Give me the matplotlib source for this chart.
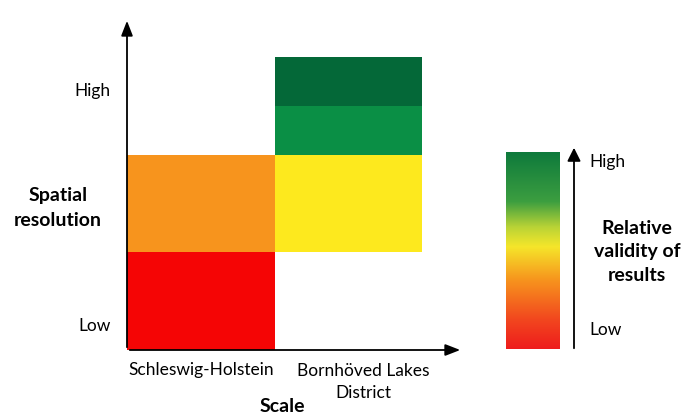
import numpy as np
import matplotlib.pyplot as plt
from matplotlib.patches import FancyArrowPatch
from matplotlib.colors import LinearSegmentedColormap

plt.rcParams['font.family'] = ['Lato', 'DejaVu Sans']

# cells of the chart: one stacked column per scale
categories = ['Schleswig-Holstein', 'Bornhöved Lakes\nDistrict']
# heights of the stacked blocks (bottom to top), 'none' colour = empty
sh_heights = [1.0, 1.0]
sh_colors = ['#f50505', '#f7941d']
bl_heights = [1.0, 1.0, 0.5, 0.5]
bl_colors = ['none', '#fde91e', '#0a8f45', '#046838']
y_labels = ['Low', 'High']
y_label_pos = [0.26, 2.67]

# colour bar stops (position, colour)
cbar_stops = [(0.0, '#ee1c1c'), (0.15, '#f2471f'), (0.35, '#f7941d'),
              (0.52, '#f5e62a'), (0.62, '#b9d336'), (0.75, '#3c9e40'),
              (1.0, '#0e7a3c')]

W, H = 689, 416
fig = plt.figure(figsize=(W / 100, H / 100), dpi=100)


def box(x0, y0, x1, y1):
    # pixel box (top-left origin) -> figure fraction rect
    return [x0 / W, 1 - y1 / H, (x1 - x0) / W, (y1 - y0) / H]


ax = fig.add_axes(box(127, 18, 463, 350))
ax.set_xlim(0, 336 / 147.5)
ax.set_ylim(0, 332 / 97.7)

bottom = 0
for h, c in zip(sh_heights, sh_colors):
    ax.bar(0, h, width=1, bottom=bottom, align='edge', color=c, linewidth=0)
    bottom += h
bottom = 0
for h, c in zip(bl_heights, bl_colors):
    ax.bar(1, h, width=1, bottom=bottom, align='edge', color=c, linewidth=0)
    bottom += h

for s in ax.spines.values():
    s.set_visible(False)
ax.set_xticks([0.5, 1.603], categories, fontsize=12.5, linespacing=1.5)
ax.set_yticks(y_label_pos, y_labels, fontsize=12.5)
ax.tick_params(length=0, pad=12)
ax.tick_params(axis='x', pad=9)

arrow = dict(arrowstyle='-|>,head_length=0.9,head_width=0.35', color='black', lw=1.3)
ax.annotate('', xy=(1, 0), xytext=(0, 0), xycoords='axes fraction', arrowprops=arrow)
ax.annotate('', xy=(0, 1), xytext=(0, 0), xycoords='axes fraction', arrowprops=arrow)

fig.text(282 / W, 1 - 407 / H, 'Scale', ha='center', va='center', fontsize=14, fontweight='bold')
fig.text(58 / W, 1 - 208 / H, 'Spatial\nresolution', ha='center', va='center',
         fontsize=14, fontweight='bold', linespacing=1.55)

# colour bar
cax = fig.add_axes(box(506, 152, 560, 349))
cmap = LinearSegmentedColormap.from_list('validity', cbar_stops)
grad = np.linspace(0, 1, 256).reshape(-1, 1)
cax.imshow(grad, cmap=cmap, aspect='auto', origin='lower')
cax.axis('off')

fig.patches.append(FancyArrowPatch(
    (574 / W, 1 - 351 / H), (574 / W, 1 - 145 / H), transform=fig.transFigure,
    arrowstyle='-|>,head_length=8,head_width=4', color='black', lw=1.3,
    mutation_scale=1))
fig.text(589 / W, 1 - 162 / H, 'High', ha='left', va='center', fontsize=12.5)
fig.text(589 / W, 1 - 330 / H, 'Low', ha='left', va='center', fontsize=12.5)
fig.text(637 / W, 1 - 252 / H, 'Relative\nvalidity of\nresults', ha='center', va='center',
         fontsize=14, fontweight='bold', linespacing=1.45)

fig.savefig('out.png', dpi=100)
